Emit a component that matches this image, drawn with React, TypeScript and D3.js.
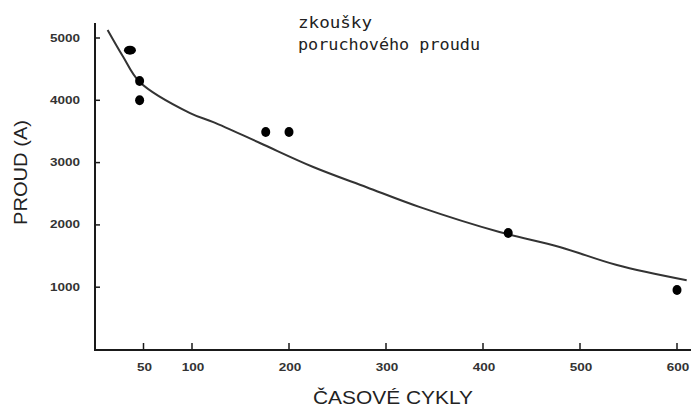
import React from "react";
import * as d3 from "d3";

const W = 691;
const H = 408;

const xTicks = [50, 100, 200, 300, 400, 500, 600];
const yTicks = [1000, 2000, 3000, 4000, 5000];

// curve (cycles, current)
const curveX = [13, 29, 46, 98, 122, 170, 225, 280, 335, 417, 479, 538, 610];
const curveY = [5130, 4700, 4295, 3795, 3650, 3315, 2930, 2605, 2285, 1885, 1645, 1355, 1110];

// measured points
const ptX = [36, 46, 46, 176, 200, 426, 600];
const ptY = [4805, 4310, 4000, 3490, 3490, 1870, 955];

const titleLines = ["zkoušky", "poruchového proudu"];
const xTitle = "ČASOVÉ CYKLY";
const yTitle = "PROUD (A)";

export default function App() {
  const x = d3.scaleLinear().domain([0, 600]).range([95, 677]);
  const y = d3.scaleLinear().domain([0, 5000]).range([349.5, 38]);
  const line = d3
    .line<number>()
    .x((_, i) => x(curveX[i]))
    .y((d) => y(d))
    .curve(d3.curveCatmullRom);

  const ink = "#1a1a1a";
  return (
    <svg
      width={W}
      height={H}
      style={{ position: "absolute", left: 0, top: 0, background: "#fff" }}
    >
      {/* axes */}
      <line x1={95} y1={23} x2={95} y2={351} stroke={ink} strokeWidth={2} />
      <line x1={94} y1={350} x2={691} y2={350} stroke={ink} strokeWidth={2} />
      {yTicks.map((t) => (
        <g key={t}>
          <line x1={95} x2={100} y1={y(t)} y2={y(t)} stroke={ink} strokeWidth={1.5} />
          <text
            x={80}
            y={y(t) + 3.5}
            textAnchor="end"
            fontFamily="Liberation Sans, Arial, sans-serif"
            fontWeight="bold"
            fontSize={10}
            fill="#333"
            textLength={30}
            lengthAdjust="spacingAndGlyphs"
          >
            {t}
          </text>
        </g>
      ))}
      {xTicks.map((t) => (
        <g key={t}>
          <line x1={x(t)} x2={x(t)} y1={350} y2={343} stroke={ink} strokeWidth={1.5} />
          <text
            x={x(t) + 1}
            y={371}
            textAnchor="middle"
            fontFamily="Liberation Sans, Arial, sans-serif"
            fontWeight="bold"
            fontSize={10}
            fill="#333"
            textLength={String(t).length * 7.5}
            lengthAdjust="spacingAndGlyphs"
          >
            {t}
          </text>
        </g>
      ))}
      {/* curve */}
      <path d={line(curveY) || ""} fill="none" stroke="#333" strokeWidth={2} />
      {/* points */}
      {ptX.map((px, i) => (
        <ellipse
          key={i}
          cx={x(px)}
          cy={y(ptY[i])}
          rx={i === 0 ? 6 : 4.5}
          ry={i === 0 ? 4.5 : 5}
          fill="#000"
        />
      ))}
      {/* titles */}
      {titleLines.map((s, i) => (
        <text
          key={i}
          x={298}
          y={28 + i * 22}
          fontFamily="DejaVu Sans Mono, monospace"
          fontSize={16}
          fill="#222"
          textLength={i === 0 ? 74 : 182}
          lengthAdjust="spacingAndGlyphs"
        >
          {s}
        </text>
      ))}
      <text
        x={313}
        y={404}
        fontFamily="Liberation Sans, Arial, sans-serif"
        fontSize={18}
        fill="#222"
        textLength={160}
        lengthAdjust="spacingAndGlyphs"
      >
        {xTitle}
      </text>
      <text
        transform="translate(27,225) rotate(-90)"
        fontFamily="Liberation Sans, Arial, sans-serif"
        fontSize={18}
        fill="#222"
        textLength={105}
        lengthAdjust="spacingAndGlyphs"
      >
        {yTitle}
      </text>
    </svg>
  );
}
